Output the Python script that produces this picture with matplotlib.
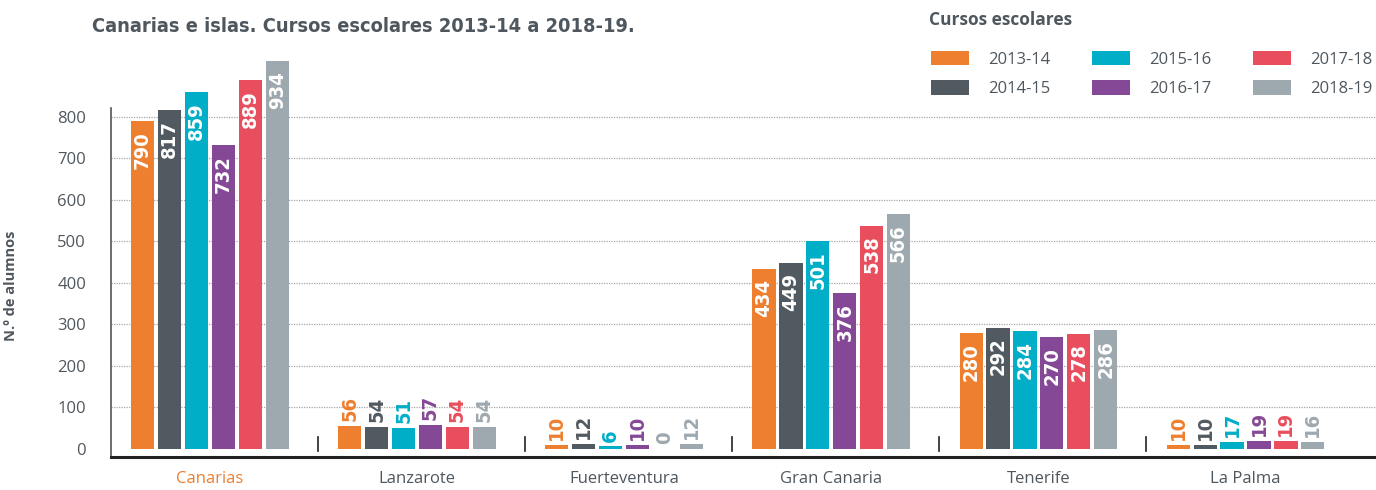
import matplotlib
matplotlib.use("Agg")
import numpy as np
from matplotlib import pyplot as plt
from matplotlib.patches import Patch

islands = ['Canarias', 'Lanzarote', 'Fuerteventura', 'Gran Canaria', 'Tenerife', 'La Palma']
years = ['2013-14', '2014-15', '2015-16', '2016-17', '2017-18', '2018-19']
# one list per school year, in island order
v_2013 = [790, 56, 10, 434, 280, 10]
v_2014 = [817, 54, 12, 449, 292, 10]
v_2015 = [859, 51, 6, 501, 284, 17]
v_2016 = [732, 57, 10, 376, 270, 19]
v_2017 = [889, 54, 0, 538, 278, 19]
v_2018 = [934, 54, 12, 566, 286, 16]
series = [v_2013, v_2014, v_2015, v_2016, v_2017, v_2018]

colors = ['#EE7F2F', '#525A61', '#00AEC7', '#854896', '#E84E5D', '#9EA8AF']
text_col = '#4F575E'

plt.rcParams['font.family'] = ['Open Sans', 'DejaVu Sans']

fig = plt.figure(figsize=(13.76, 4.9), dpi=100)
ax = fig.add_axes([111/1376, 33/490, 1 - 111/1376, (457 - 50)/490])

x = np.arange(len(islands))
step = 0.13
width = 0.112
num_font = dict(fontsize=14.5, fontweight='bold', family='DejaVu Sans', fontstretch='condensed')
for i, vals in enumerate(series):
    pos = x + (i - 2.5) * step
    ax.bar(pos, vals, width=width, color=colors[i], zorder=3)
    for px, v in zip(pos, vals):
        if v > 100:
            ax.text(px, v - 24, str(v), rotation=90, ha='center', va='top',
                    color='white', zorder=4, **num_font)
        else:
            c = colors[i] if v > 0 else colors[5]
            ax.text(px, v + 12, str(v), rotation=90, ha='center', va='bottom',
                    color=c, zorder=4, **num_font)

# small separators between groups
for k in range(1, len(islands)):
    ax.plot([k - 0.48, k - 0.48], [-4, 30], color='#222222', lw=1.2, zorder=3)

ax.set_xlim(-0.478, 5.63)
ax.set_ylim(-19.3, 961)
ax.set_yticks(range(0, 801, 100))
ax.set_xticks(x)
ax.set_xticklabels(islands, fontsize=12, color=text_col)
ax.get_xticklabels()[0].set_color(colors[0])
ax.tick_params(axis='x', length=0, pad=10)
ax.tick_params(axis='y', length=0, pad=18, labelsize=12, labelcolor=text_col)

for yv in range(100, 801, 100):
    ax.axhline(yv, color='#A9A9A9', lw=0.9, ls=(0, (1, 1)), zorder=1)

for s in ['top', 'right']:
    ax.spines[s].set_visible(False)
ax.spines['left'].set_color('#555555')
ax.spines['left'].set_linewidth(1.2)
ax.spines['left'].set_bounds(-19.3, 821)
ax.spines['bottom'].set_color('#222222')
ax.spines['bottom'].set_linewidth(2.2)

ax.set_ylabel('N.º de alumnos', fontsize=10.5, fontweight='bold', color=text_col)
ax.yaxis.set_label_coords(-0.0735, 0.42)

fig.text(92/1376, 1 - 27/490, 'Canarias e islas. Cursos escolares 2013-14 a 2018-19.',
         fontsize=14.3, fontweight='bold', color=text_col, family='DejaVu Sans',
         fontstretch='condensed', va='center', ha='left')

fig.text(929/1376, 1 - 20/490, 'Cursos escolares', fontsize=12.5, fontweight='bold',
         color=text_col, va='center', ha='left')
handles = [Patch(facecolor=c, edgecolor='none', label=y) for c, y in zip(colors, years)]
fig.legend(handles=handles, ncol=3, loc='upper left', bbox_to_anchor=(916/1376, 1 - 36/490),
           frameon=False, fontsize=12, handlelength=2.28, handleheight=0.96,
           handletextpad=1.14, columnspacing=2.5, labelspacing=0.75, labelcolor=text_col)

fig.savefig('out.png', dpi=100)
